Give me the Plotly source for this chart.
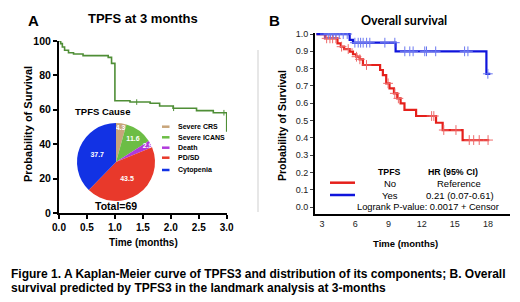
import plotly.graph_objects as go
import numpy as np

# ---------------- data ----------------
# Panel A: TPFS Kaplan-Meier (percent)
a_time = [0, 0.03, 0.06, 0.10, 0.17, 0.26, 0.43, 0.88, 0.94, 1.00, 1.27, 1.63, 1.80, 2.04, 2.46, 2.76, 3.00]
a_surv = [100, 98.5, 96.5, 94.6, 93.2, 92.4, 91.5, 90.5, 87.0, 65.3, 64.5, 63.8, 62.2, 60.9, 59.5, 58.3, 47.3]
a_censor_time = [1.39, 2.05, 2.95]

# Pie: TPFS cause
pie_labels = ["Severe CRS", "Severe ICANS", "Death", "PD/SD", "Cytopenia"]
pie_values = [4.3, 11.6, 2.9, 43.5, 37.7]
pie_colors = ["#C8A57A", "#6CBD45", "#B03ADC", "#E8392B", "#1232E4"]

# Panel B: overall survival
no_time = [2.5, 3.27, 4.4, 4.7, 5.0, 5.5, 5.8, 6.1, 6.4, 6.7, 8.25, 8.5, 8.8, 9.1, 9.5, 9.8, 10.1, 10.45, 11.5, 13.3, 13.9, 15.7, 18.1]
no_surv = [1.0, 0.975, 0.946, 0.927, 0.913, 0.898, 0.883, 0.869, 0.854, 0.821, 0.792, 0.763, 0.715, 0.686, 0.657, 0.628, 0.599, 0.561, 0.526, 0.487, 0.445, 0.387, 0.387]
no_censor = [3.42, 3.72, 3.96, 4.26, 4.77, 5.37, 6.12, 6.42, 7.02, 8.97, 9.58, 9.9, 12.9, 13.1, 14.0, 15.1, 16.3, 16.7, 17.2, 18.0]

yes_time = [2.5, 5.5, 5.8, 9.65, 17.85, 18.2]
yes_surv = [1.0, 0.966, 0.95, 0.90, 0.77, 0.77]
yes_censor = [3.27, 3.57, 3.78, 4.02, 4.26, 4.56, 4.92, 5.28, 5.97, 6.27, 6.49, 6.72, 7.03, 7.32,
              8.68, 9.58, 10.48, 10.93, 11.23, 12.28, 12.44, 13.27, 15.88, 16.18, 17.98]

a_xticks = [0, 0.5, 1.0, 1.5, 2.0, 2.5, 3.0]
a_yticks = [0, 20, 40, 60, 80, 100]
b_xticks = [3, 6, 9, 12, 15, 18]
b_yticks = [0.0, 0.1, 0.2, 0.3, 0.4, 0.5, 0.6, 0.7, 0.8, 0.9, 1.0]

# ---------------- helpers ----------------
W, H = 520, 302
def px(x): return x / W
def py(y): return 1 - y / H

def step_at(times, vals, ts):
    times = np.asarray(times); vals = np.asarray(vals)
    idx = np.searchsorted(times, ts, side="right") - 1
    return vals[np.clip(idx, 0, len(vals) - 1)]

FONT = "Liberation Sans, Arial, sans-serif"
fig = go.Figure()

# Panel A curve
fig.add_trace(go.Scatter(x=a_time, y=a_surv, mode="lines", line=dict(color="#4F8E36", width=1.6, shape="hv"),
                         xaxis="x", yaxis="y", hoverinfo="skip", showlegend=False))
fig.add_trace(go.Scatter(x=a_censor_time, y=step_at(a_time, a_surv, a_censor_time), mode="markers",
                         marker=dict(symbol="line-ns", size=4, line=dict(color="#4F8E36", width=1)),
                         xaxis="x", yaxis="y", hoverinfo="skip", showlegend=False))

# Pie
fig.add_trace(go.Pie(values=pie_values, labels=pie_labels, sort=False, direction="clockwise", rotation=0,
                     marker=dict(colors=pie_colors, line=dict(width=0)),
                     textinfo="value", textposition="inside", insidetextorientation="horizontal",
                     textfont=dict(color="white", size=7, family=FONT, weight="bold"),
                     domain=dict(x=[px(77), px(155)], y=[py(201), py(123)]),
                     showlegend=False, hoverinfo="skip"))

# Panel B curves
fig.add_trace(go.Scatter(x=no_time, y=no_surv, mode="lines", line=dict(color="#E5201B", width=2.2, shape="hv"),
                         xaxis="x2", yaxis="y2", hoverinfo="skip", showlegend=False))
fig.add_trace(go.Scatter(x=no_censor, y=step_at(no_time, no_surv, no_censor), mode="markers",
                         marker=dict(symbol="cross-thin", size=7, line=dict(color="#EE6A6A", width=1)),
                         xaxis="x2", yaxis="y2", hoverinfo="skip", showlegend=False))
fig.add_trace(go.Scatter(x=yes_time, y=yes_surv, mode="lines", line=dict(color="#0F14DC", width=2.2, shape="hv"),
                         xaxis="x2", yaxis="y2", hoverinfo="skip", showlegend=False))
fig.add_trace(go.Scatter(x=yes_censor, y=step_at(yes_time, yes_surv, yes_censor), mode="markers",
                         marker=dict(symbol="cross-thin", size=7, line=dict(color="#6A78F0", width=1)),
                         xaxis="x2", yaxis="y2", hoverinfo="skip", showlegend=False))

fig.update_layout(
    width=W, height=H, margin=dict(l=0, r=0, t=0, b=0, autoexpand=False),
    paper_bgcolor="white", plot_bgcolor="white",
    uniformtext=dict(minsize=7, mode="show"),
    xaxis=dict(domain=[px(59), px(227)], range=[0, 3.005], tickvals=a_xticks,
               ticktext=[f"{v:.1f}" for v in a_xticks], anchor="y",
               showline=True, linecolor="black", linewidth=2, ticks="outside", ticklen=4, tickwidth=2,
               tickcolor="black", showgrid=False, zeroline=False, ticklabeloverflow="allow",
               tickfont=dict(family=FONT, size=10, color="black", weight="bold")),
    yaxis=dict(domain=[py(213), py(41)], range=[0, 100], tickvals=a_yticks,
               ticktext=[str(v) for v in a_yticks], anchor="x",
               showline=True, linecolor="black", linewidth=2, ticks="outside", ticklen=4, tickwidth=2,
               tickcolor="black", showgrid=False, zeroline=False, ticklabeloverflow="allow",
               tickfont=dict(family=FONT, size=10.5, color="black", weight="bold")),
    xaxis2=dict(domain=[px(315), px(510)], range=[2.37, 19.98], tickvals=b_xticks, anchor="y2",
                showline=True, linecolor="black", linewidth=2, ticks="", showgrid=False, zeroline=False,
                ticklabeloverflow="allow", tickfont=dict(family=FONT, size=9, color="#222")),
    yaxis2=dict(domain=[py(214), py(33)], range=[-0.0405, 1.006], tickvals=b_yticks,
                ticktext=[f"{v:.1f}" for v in b_yticks], anchor="x2",
                showline=True, linecolor="black", linewidth=2, ticks="outside", ticklen=3, tickwidth=1,
                tickcolor="#444", showgrid=False, zeroline=False, ticklabeloverflow="allow",
                tickfont=dict(family=FONT, size=9, color="#222")),
)

ann = []
def T(x, y, text, size, bold=True, anchor="center", angle=0, color="black", family=FONT):
    ann.append(dict(x=px(x), y=py(y), xref="paper", yref="paper", text=text, showarrow=False,
                    xanchor=anchor, yanchor="middle", textangle=angle,
                    font=dict(family=family, size=size, color=color, weight="bold" if bold else "normal")))

# Panel A texts
T(33.5, 20, "A", 15)
T(142.5, 19, "TPFS at 3 months", 13)
T(28, 124, "Probability of Survival", 11, angle=-90)
T(143.5, 242, "Time (months)", 10)
T(102.5, 111.5, "TPFS Cause", 9.5)
T(115.5, 206, "Total=69", 10.5)

legend_y = [126.7, 137.3, 147.7, 157.7, 170]
shapes = []
for lab, col, yy in zip(pie_labels, pie_colors, legend_y):
    T(176, yy, lab, 7, anchor="left")
    shapes.append(dict(type="line", xref="paper", yref="paper", x0=px(162), x1=px(169.5), y0=py(yy), y1=py(yy),
                       line=dict(color=col, width=2.5)))

# separator
shapes.append(dict(type="line", xref="paper", yref="paper", x0=px(258), x1=px(258), y0=py(50), y1=py(212),
                   line=dict(color="#cfcfcf", width=1)))

# Panel B texts
T(274, 20, "B", 15)
T(404, 20, "Overall survival", 12.5, family="Lato, Liberation Sans, sans-serif")
T(282, 126, "Probability of Survival", 10.5, angle=-90)
T(405.5, 243, "Time (months)", 9.5)
T(389.5, 172.3, "TPFS", 8.8)
T(453, 172.3, "HR (95% CI)", 8.8)
T(389.5, 183, "No", 9.5, bold=False)
T(389.5, 195, "Yes", 9.5, bold=False)
T(459, 183, "Reference", 9.5, bold=False)
T(460, 195, "0.21 (0.07-0.61)", 9.5, bold=False)
T(427.5, 207, "Logrank P-value: 0.0017 + Censor", 9.3, bold=False)
shapes.append(dict(type="line", xref="paper", yref="paper", x0=px(330), x1=px(355), y0=py(182.7), y1=py(182.7),
                   line=dict(color="#E5201B", width=2.5)))
shapes.append(dict(type="line", xref="paper", yref="paper", x0=px(330), x1=px(355), y0=py(195), y1=py(195),
                   line=dict(color="#0F14DC", width=2.5)))

# Caption
T(9, 273.5, "Figure 1. A Kaplan-Meier curve of TPFS3 and distribution of its components; B. Overall", 12, anchor="left")
T(9, 288, "survival predicted by TPFS3 in the landmark analysis at 3-months", 12, anchor="left")

fig.update_layout(annotations=ann, shapes=shapes)
fig.write_html("out.html", config={"displayModeBar": False},
               post_script="document.body.style.margin='0';document.body.style.overflow='hidden';")
